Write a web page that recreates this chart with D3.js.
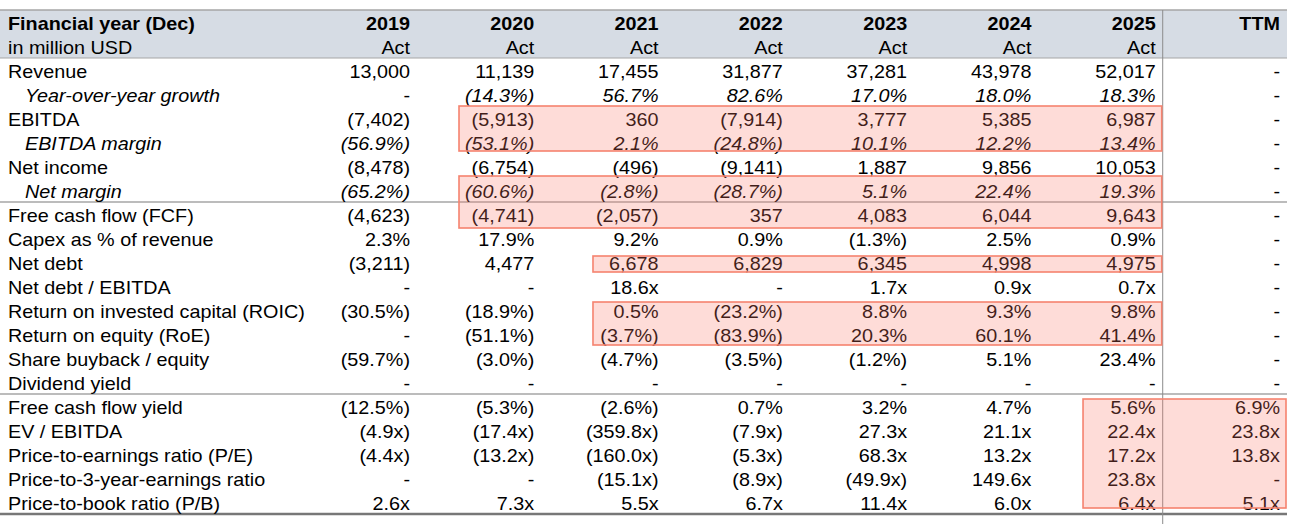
<!DOCTYPE html>
<html>
<head>
<meta charset="utf-8">
<script src="https://cdn.jsdelivr.net/npm/d3@7/dist/d3.min.js"></script>
<style>
  html, body { margin: 0; padding: 0; background: #fff; }
  svg { display: block; font-family: "Liberation Sans", Arial, sans-serif; }
</style>
</head>
<body>
<svg id="chart" width="1306" height="528"></svg>
<script>
// ---------- DATA ----------
const headerTitle = "Financial year (Dec)";
const headerSub = "in million USD";
const columns = ["2019", "2020", "2021", "2022", "2023", "2024", "2025", "TTM"];
const columnSub = ["Act", "Act", "Act", "Act", "Act", "Act", "Act", ""];

const rowLabels = [
  "Revenue", "Year-over-year growth", "EBITDA", "EBITDA margin", "Net income", "Net margin",
  "Free cash flow (FCF)", "Capex as % of revenue", "Net debt", "Net debt / EBITDA",
  "Return on invested capital (ROIC)", "Return on equity (RoE)", "Share buyback / equity",
  "Dividend yield", "Free cash flow yield", "EV / EBITDA", "Price-to-earnings ratio (P/E)",
  "Price-to-3-year-earnings ratio", "Price-to-book ratio (P/B)"
];
const italicRows = [1, 3, 5];

const revenue        = ["13,000", "11,139", "17,455", "31,877", "37,281", "43,978", "52,017", "-"];
const yoyGrowth      = ["-", "(14.3%)", "56.7%", "82.6%", "17.0%", "18.0%", "18.3%", "-"];
const ebitda         = ["(7,402)", "(5,913)", "360", "(7,914)", "3,777", "5,385", "6,987", "-"];
const ebitdaMargin   = ["(56.9%)", "(53.1%)", "2.1%", "(24.8%)", "10.1%", "12.2%", "13.4%", "-"];
const netIncome      = ["(8,478)", "(6,754)", "(496)", "(9,141)", "1,887", "9,856", "10,053", "-"];
const netMargin      = ["(65.2%)", "(60.6%)", "(2.8%)", "(28.7%)", "5.1%", "22.4%", "19.3%", "-"];
const fcf            = ["(4,623)", "(4,741)", "(2,057)", "357", "4,083", "6,044", "9,643", "-"];
const capexPct       = ["2.3%", "17.9%", "9.2%", "0.9%", "(1.3%)", "2.5%", "0.9%", "-"];
const netDebt        = ["(3,211)", "4,477", "6,678", "6,829", "6,345", "4,998", "4,975", "-"];
const netDebtEbitda  = ["-", "-", "18.6x", "-", "1.7x", "0.9x", "0.7x", "-"];
const roic           = ["(30.5%)", "(18.9%)", "0.5%", "(23.2%)", "8.8%", "9.3%", "9.8%", "-"];
const roe            = ["-", "(51.1%)", "(3.7%)", "(83.9%)", "20.3%", "60.1%", "41.4%", "-"];
const buyback        = ["(59.7%)", "(3.0%)", "(4.7%)", "(3.5%)", "(1.2%)", "5.1%", "23.4%", "-"];
const dividendYield  = ["-", "-", "-", "-", "-", "-", "-", "-"];
const fcfYield       = ["(12.5%)", "(5.3%)", "(2.6%)", "0.7%", "3.2%", "4.7%", "5.6%", "6.9%"];
const evEbitda       = ["(4.9x)", "(17.4x)", "(359.8x)", "(7.9x)", "27.3x", "21.1x", "22.4x", "23.8x"];
const peRatio        = ["(4.4x)", "(13.2x)", "(160.0x)", "(5.3x)", "68.3x", "13.2x", "17.2x", "13.8x"];
const pe3Ratio       = ["-", "-", "(15.1x)", "(8.9x)", "(49.9x)", "149.6x", "23.8x", "-"];
const pbRatio        = ["2.6x", "7.3x", "5.5x", "6.7x", "11.4x", "6.0x", "6.4x", "5.1x"];

const rowValues = [revenue, yoyGrowth, ebitda, ebitdaMargin, netIncome, netMargin, fcf, capexPct,
  netDebt, netDebtEbitda, roic, roe, buyback, dividendYield, fcfYield, evEbitda, peRatio, pe3Ratio, pbRatio];

// separator lines above these data rows
const separatorRows = [6, 14];

// highlighted blocks: data-row range and column range
const highlights = [
  { r0: 2, r1: 3, c0: 1, c1: 6 },
  { r0: 5, r1: 6, c0: 1, c1: 6 },
  { r0: 8, r1: 8, c0: 2, c1: 6 },
  { r0: 10, r1: 11, c0: 2, c1: 6 },
  { r0: 14, r1: 18, c0: 6, c1: 7 }
];

// ---------- LAYOUT / STYLE ----------
const W = 1306, H = 528;
const tableLeft = 0, tableRight = 1287;
const headerRows = 2;
const totalRows = headerRows + rowLabels.length;
const rowScale = d3.scaleLinear().domain([0, totalRows]).range([10, 514]);
const colScale = d3.scaleLinear().domain([0, columns.length - 1]).range([410, 1280]);
const rowH = rowScale(1) - rowScale(0);
const fontSize = 17.7;
const sx = 1.118;            // horizontal stretch of glyphs
const baseline = i => rowScale(i) + rowH / 2 + 8;
// hand-drawn look of highlight boxes: per-box offsets (left, top, bottom)
const boxStyle = [
  { l: 49, t: 0, b: 3 },
  { l: 49, t: -2, b: -2 },
  { l: 58.7, t: 6, b: 2 },
  { l: 58.7, t: 4, b: 1 },
  { l: 51.6, t: 5, b: 6 }
];

const svg = d3.select("#chart");

// header background
svg.append("rect")
  .attr("x", tableLeft).attr("y", rowScale(0))
  .attr("width", tableRight - tableLeft).attr("height", rowScale(headerRows) - rowScale(0))
  .attr("fill", "#d6dce4");

// lines
const lines = svg.append("g");
lines.append("line").attr("x1", tableLeft).attr("x2", tableRight)
  .attr("y1", rowScale(0)).attr("y2", rowScale(0)).attr("stroke", "#a6a6a6").attr("stroke-width", 1.5);
lines.append("line").attr("x1", tableLeft).attr("x2", tableRight)
  .attr("y1", rowScale(headerRows)).attr("y2", rowScale(headerRows)).attr("stroke", "#a6a6a6").attr("stroke-width", 1);
separatorRows.forEach(r => {
  lines.append("line").attr("x1", tableLeft).attr("x2", tableRight)
    .attr("y1", rowScale(headerRows + r)).attr("y2", rowScale(headerRows + r))
    .attr("stroke", "#a6a6a6").attr("stroke-width", 1.5);
});
lines.append("line").attr("x1", tableLeft).attr("x2", tableRight)
  .attr("y1", rowScale(totalRows)).attr("y2", rowScale(totalRows))
  .attr("stroke", "#777").attr("stroke-width", 2.5);
lines.append("line").attr("x1", colScale(6) + 7).attr("x2", colScale(6) + 7)
  .attr("y1", rowScale(0)).attr("y2", H - 4).attr("stroke", "#8c8c8c").attr("stroke-width", 1);

// text layer (stretched horizontally)
const txt = svg.append("g").attr("transform", `scale(${sx},1)`)
  .attr("font-size", fontSize).attr("fill", "#000");

// header text
txt.append("text").attr("x", 8 / sx).attr("y", baseline(0)).attr("font-weight", "bold").text(headerTitle);
txt.append("text").attr("x", 8 / sx).attr("y", baseline(1)).text(headerSub);
txt.selectAll("text.yr").data(columns).join("text").attr("class", "yr")
  .attr("x", (d, i) => colScale(i) / sx).attr("y", baseline(0))
  .attr("text-anchor", "end").attr("font-weight", "bold").text(d => d);
txt.selectAll("text.sub").data(columnSub).join("text").attr("class", "sub")
  .attr("x", (d, i) => colScale(i) / sx).attr("y", baseline(1))
  .attr("text-anchor", "end").text(d => d);

// body
const rows = txt.selectAll("g.row").data(rowLabels).join("g").attr("class", "row");
rows.append("text")
  .attr("x", (d, i) => (italicRows.includes(i) ? 25 : 8) / sx)
  .attr("y", (d, i) => baseline(headerRows + i))
  .attr("font-style", (d, i) => italicRows.includes(i) ? "italic" : "normal")
  .text(d => d);
rows.each(function (label, i) {
  d3.select(this).selectAll("text.v").data(rowValues[i]).join("text").attr("class", "v")
    .attr("x", (d, j) => colScale(j) / sx)
    .attr("y", baseline(headerRows + i))
    .attr("text-anchor", "end")
    .attr("font-style", (d, j) => (italicRows.includes(i) && d !== "-") ? "italic" : "normal")
    .text(d => d);
});

// highlight boxes (drawn on top, semi transparent)
svg.append("g").selectAll("rect").data(highlights).join("rect")
  .attr("x", (d, k) => colScale(d.c0 - 1) + boxStyle[k].l)
  .attr("y", (d, k) => rowScale(headerRows + d.r0) + boxStyle[k].t)
  .attr("width", (d, k) => (colScale(d.c1) + 6) - (colScale(d.c0 - 1) + boxStyle[k].l))
  .attr("height", (d, k) => rowScale(headerRows + d.r1 + 1) - boxStyle[k].b - (rowScale(headerRows + d.r0) + boxStyle[k].t))
  .attr("fill", "rgba(250,120,104,0.26)")
  .attr("stroke", "#f5836f")
  .attr("stroke-width", 1.6);
</script>
</body>
</html>
